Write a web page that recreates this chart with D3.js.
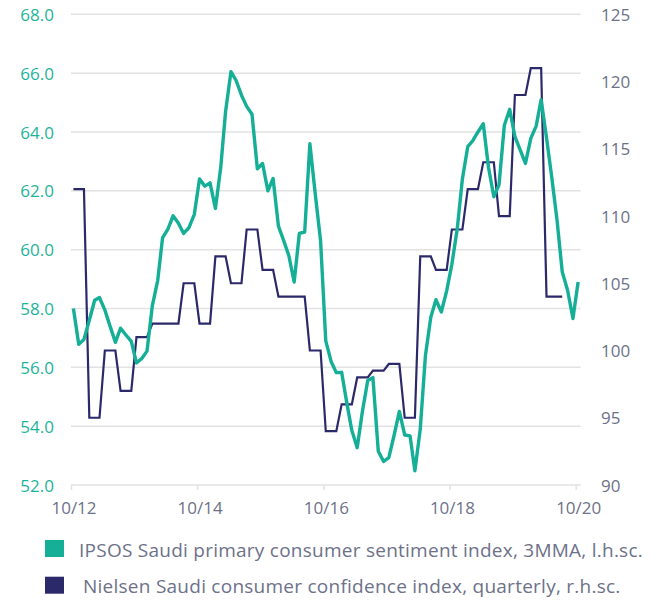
<!DOCTYPE html>
<html>
<head>
<meta charset="utf-8">
<script src="https://cdn.jsdelivr.net/npm/d3@7"></script>
<style>
  html, body { margin: 0; padding: 0; background: #ffffff; }
  svg { display: block; }
  text { font-family: "Open Sans", Lato, sans-serif; }
</style>
</head>
<body>
<svg id="chart" width="663" height="603"></svg>
<script>
// ---- Data ----
// IPSOS Saudi primary consumer sentiment index, 3MMA (monthly, from Oct 2012), l.h.sc.
const ipsosStart = "2012-10-15";
const ipsosValues = [
  58.0, 56.78, 56.95, 57.6, 58.28, 58.37, 57.95, 57.4, 56.85, 57.33, 57.1, 56.88,
  56.15, 56.3, 56.55, 58.1, 58.95, 60.4, 60.7, 61.15, 60.9, 60.55, 60.75, 61.2,
  62.4, 62.16, 62.27, 61.4, 62.8, 64.7, 66.05, 65.75, 65.25, 64.87, 64.6, 62.75,
  62.93, 62.0, 62.42, 60.8, 60.3, 59.8, 58.9, 60.55, 60.6, 63.6, 61.9, 60.3,
  56.9, 56.2, 55.82, 55.83, 54.75, 53.85, 53.27, 54.5, 55.55, 55.65, 53.15, 52.8,
  52.93, 53.7, 54.5, 53.7, 53.67, 52.48, 53.9, 56.4, 57.7, 58.3, 57.88, 58.6,
  59.5, 60.7, 62.4, 63.5, 63.72, 64.0, 64.28, 62.8, 61.8, 62.2, 64.23, 64.77,
  63.84, 63.38, 62.93, 63.78, 64.2, 65.1, 63.8, 62.48, 61.0, 59.25, 58.62, 57.66,
  58.9
];
// Nielsen Saudi consumer confidence index, quarterly (plotted monthly, from Oct 2012), r.h.sc.
const nielsenStart = "2012-10-15";
const nielsenValues = [
  112, 112, 112, 95, 95, 95, 100, 100, 100, 97, 97, 97,
  101, 101, 101, 102, 102, 102, 102, 102, 102, 105, 105, 105,
  102, 102, 102, 107, 107, 107, 105, 105, 105, 109, 109, 109,
  106, 106, 106, 104, 104, 104, 104, 104, 104, 100, 100, 100,
  94, 94, 94, 96, 96, 96, 98, 98, 98, 98.5, 98.5, 98.5,
  99, 99, 99, 95, 95, 95, 107, 107, 107, 106, 106, 106,
  109, 109, 109, 112, 112, 112, 114, 114, 114, 110, 110, 110,
  119, 119, 119, 121, 121, 121, 104, 104, 104, 104
];
const leftTicks = [52, 54, 56, 58, 60, 62, 64, 66, 68];
const rightTicks = [90, 95, 100, 105, 110, 115, 120, 125];
const xTickDates = ["2012-10-01", "2014-10-01", "2016-10-01", "2018-10-01", "2020-10-01"];
const xTickLabels = ["10/12", "10/14", "10/16", "10/18", "10/20"];
const legendLabels = [
  "IPSOS Saudi primary consumer sentiment index, 3MMA, l.h.sc.",
  "Nielsen Saudi consumer confidence index, quarterly, r.h.sc."
];

// ---- Styles ----
const teal = "#15af97";
const tealText = "#1db39b";
const navy = "#2c296b";
const greyText = "#6d7189";
const gridColor = "#e2e2e2";
const fontFamily = "'Open Sans', Lato, sans-serif";

const parse = d3.timeParse("%Y-%m-%d");
const svg = d3.select("#chart");

const x = d3.scaleTime()
  .domain([parse("2012-10-01"), parse("2020-10-01")])
  .range([71, 575.7]);
const yL = d3.scaleLinear().domain([52, 68]).range([485, 14.3]);
const yR = d3.scaleLinear().domain([90, 125]).range([485, 14.3]);

const ipsos = ipsosValues.map((v, i) => ({ date: d3.timeMonth.offset(parse(ipsosStart), i), v }));
const nielsen = nielsenValues.map((v, i) => ({ date: d3.timeMonth.offset(parse(nielsenStart), i), v }));

// Gridlines
const gridRight = 580.7;
svg.append("g").selectAll("line")
  .data(leftTicks)
  .join("line")
  .attr("x1", x.range()[0])
  .attr("x2", gridRight)
  .attr("y1", d => yL(d))
  .attr("y2", d => yL(d))
  .attr("stroke", gridColor)
  .attr("stroke-width", 1.5);

// Bottom axis
const xAxis = d3.axisBottom(x)
  .tickValues(xTickDates.map(parse))
  .tickFormat((d, i) => xTickLabels[i])
  .tickSize(5)
  .tickSizeOuter(0);
const gx = svg.append("g").attr("transform", `translate(0,${yL(52)})`).call(xAxis);
gx.select(".domain").remove();
gx.selectAll(".tick line").attr("stroke", gridColor).attr("stroke-width", 1.5);
gx.selectAll(".tick text")
  .attr("fill", greyText)
  .attr("font-size", 17)
  .attr("dy", 0)
  .attr("y", 29)
  .attr("dx", 2.5);

// Left axis
const gl = svg.append("g").attr("transform", "translate(54,0)")
  .call(d3.axisLeft(yL).tickValues(leftTicks).tickFormat(d3.format(".1f")).tickSize(0).tickPadding(0));
gl.select(".domain").remove();
gl.selectAll(".tick text").attr("fill", tealText).attr("font-size", 17).attr("dy", "0.36em");

// Right axis
const gr = svg.append("g").attr("transform", "translate(601,0)")
  .call(d3.axisRight(yR).tickValues(rightTicks).tickFormat(d3.format("d")).tickSize(0).tickPadding(0));
gr.select(".domain").remove();
gr.selectAll(".tick text").attr("fill", greyText).attr("font-size", 17).attr("dy", "0.36em");

svg.selectAll(".tick text").attr("font-family", fontFamily);

// Lines
const lineL = d3.line().x(d => x(d.date)).y(d => yL(d.v));
const lineR = d3.line().x(d => x(d.date)).y(d => yR(d.v));

svg.append("path")
  .datum(nielsen)
  .attr("d", lineR)
  .attr("fill", "none")
  .attr("stroke", navy)
  .attr("stroke-width", 2.2)
  .attr("stroke-linejoin", "miter");

svg.append("path")
  .datum(ipsos)
  .attr("d", lineL)
  .attr("fill", "none")
  .attr("stroke", teal)
  .attr("stroke-width", 3.4)
  .attr("stroke-linejoin", "round");

// Legend
const legend = svg.append("g");
const legendItems = [
  { label: legendLabels[0], color: teal, y: 540, tx: 79 },
  { label: legendLabels[1], color: navy, y: 576.7, tx: 83 }
];
legendItems.forEach(it => {
  legend.append("rect")
    .attr("x", 45).attr("y", it.y)
    .attr("width", 19).attr("height", 17)
    .attr("fill", it.color);
  legend.append("text")
    .attr("x", it.tx).attr("y", it.y + 16.5)
    .attr("fill", greyText)
    .attr("font-family", fontFamily)
    .attr("font-size", 19)
    .attr("letter-spacing", 0.25)
    .text(it.label);
});
</script>
</body>
</html>
